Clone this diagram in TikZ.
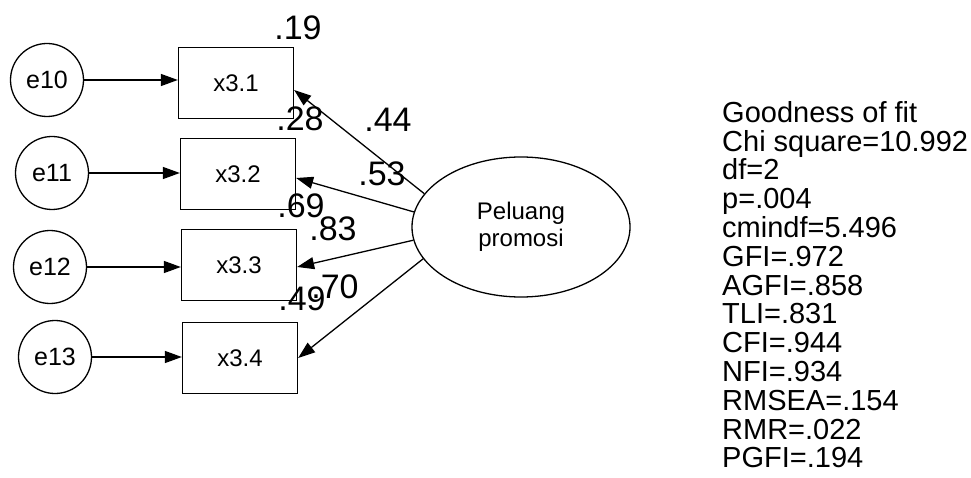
\documentclass[tikz,border=0pt]{standalone}
\usepackage{fontspec}
\setmainfont{Liberation Sans}
\usetikzlibrary{arrows.meta,shapes.geometric}
\begin{document}
\begin{tikzpicture}[x=1pt,y=-1pt,
 errc/.style={circle,draw,line width=1.3pt,minimum size=73pt,inner sep=0pt,font=\fontsize{25}{30}\selectfont},
 obs/.style={rectangle,draw,line width=1.3pt,minimum width=115pt,minimum height=71pt,inner sep=0pt,font=\fontsize{24}{28}\selectfont},
 lat/.style={ellipse,draw,line width=1.3pt,minimum width=218pt,minimum height=140pt,inner sep=0pt,align=center,font=\fontsize{24}{27}\selectfont},
 lnk/.style={line width=1.3pt,-{Triangle[length=17pt,width=12pt]}},
 coef/.style={font=\fontsize{34}{40}\selectfont,inner sep=0pt},
 gof/.style={align=left,inner sep=0pt,font=\fontsize{29}{28.8}\selectfont}
]
\useasboundingbox (0,0) rectangle (971,478);
% error terms
\node[errc] (e10) at (47,80) {e10};
\node[errc] (e11) at (52,173) {e11};
\node[errc] (e12) at (50,267) {e12};
\node[errc] (e13) at (55,357) {e13};
% observed
\node[obs] (x31) at (236,83) {x3.1};
\node[obs] (x32) at (238,174) {x3.2};
\node[obs] (x33) at (239,265) {x3.3};
\node[obs] (x34) at (240,358) {x3.4};
% latent
\node[lat] (lp) at (521,227) {Peluang\\promosi};
% error arrows
\draw[lnk] (e10.east) -- (e10.east -| x31.west);
\draw[lnk] (e11.east) -- (e11.east -| x32.west);
\draw[lnk] (e12.east) -- (e12.east -| x33.west);
\draw[lnk] (e13.east) -- (e13.east -| x34.west);
% loadings
\draw[lnk] (lp.161) -- ([yshift=-7pt]x31.east);
\draw[lnk] (lp.172) -- ([yshift=-4pt]x32.east);
\draw[lnk] (lp.187) -- ([yshift=-2pt]x33.east);
\draw[lnk] (lp.198) -- (x34.east);
% coefficients
\node[coef] (c19) at (298,28) {.19};
\node[coef] (c28) at (300,119) {.28};
\node[coef] (c44) at (388,120) {.44};
\node[coef] (c53) at (382,174) {.53};
\node[coef] (c69) at (301,206) {.69};
\node[coef] (c83) at (333,229) {.83};
\node[coef] (c70) at (335,287) {.70};
\node[coef] (c49) at (302,299) {.49};
% goodness of fit
\node[gof,anchor=north west] (gofbox) at (722,101) {Goodness of fit\\Chi square=10.992\\df=2\\p=.004\\cmindf=5.496\\GFI=.972\\AGFI=.858\\TLI=.831\\CFI=.944\\NFI=.934\\RMSEA=.154\\RMR=.022\\PGFI=.194};
\end{tikzpicture}
\end{document}
